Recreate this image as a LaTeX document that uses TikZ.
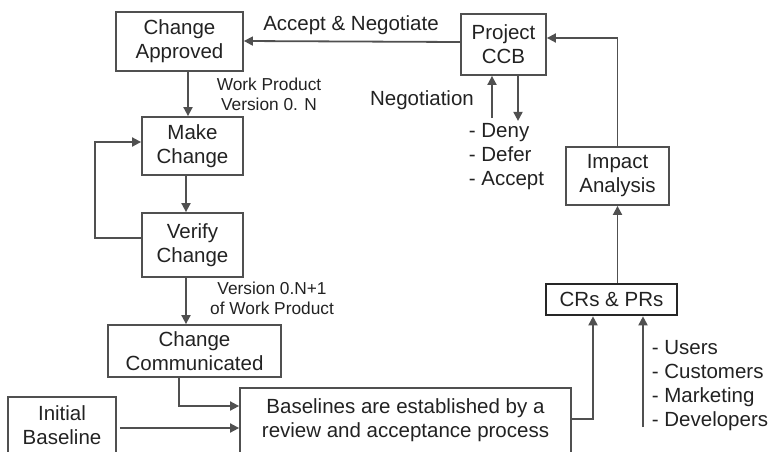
\documentclass[tikz,border=0pt]{standalone}
\usepackage{fontspec}
\setmainfont{Liberation Sans}
\usetikzlibrary{arrows.meta}
\definecolor{linegrey}{HTML}{505050}
\definecolor{textgrey}{HTML}{222222}
\tikzset{%
    process/.style={
      rectangle,
      draw,
      line width=1.8pt,
      align=center,
      inner sep=0pt,
      text=textgrey,
      font=\fontsize{20.5}{24}\selectfont
    },
    request/.style={
      process,
      draw=black!85,
      line width=2.6pt
    },
    remark/.style={
      align=center,
      inner sep=0pt,
      text=textgrey,
      font=\fontsize{17.3}{20}\selectfont
    },
    listing/.style={
      align=left,
      inner sep=0pt,
      text=textgrey,
      font=\fontsize{20.5}{24}\selectfont
    }
  }

\begin{document}
\begin{tikzpicture}[x=1pt, y=-1pt, >={Triangle[length=9pt,width=9pt]}, line width=1.8pt, color=linegrey]
      \useasboundingbox (0,0) rectangle (770,451);
      \clip (0,0) rectangle (770,451);

      \node [process, minimum width=127pt, minimum height=59pt] (approved) at (179.5,41.5) {Change\\Approved};
      \node [process, minimum width=101pt, minimum height=58pt] (make) at (192.5,146) {Make\\Change};
      \node [process, minimum width=101pt, minimum height=64pt] (verify) at (192.5,245) {Verify\\Change};
      \node [process, minimum width=173pt, minimum height=52pt] (comm) at (194.5,351) {Change\\Communicated};
      \node [process, minimum width=108pt, minimum height=56pt] (initial) at (62,425) {Initial\\Baseline};
      \node [process, minimum width=331pt, minimum height=65pt] (baselines) at (405.5,420.5) {Baselines are established by a\\review and acceptance process};

      \node [process, minimum width=85pt, minimum height=61pt] (ccb) at (503.5,44.5) {Project\\CCB};
      \node [process, minimum width=103pt, minimum height=58pt] (impact) at (617.5,176) {Impact\\Analysis};
      \node [request, minimum width=131pt, minimum height=31pt] (crs) at (611.5,299.5) {CRs \& PRs};

      \node [listing] (acc) at (351,25) {Accept \& Negotiate};
      \node [remark] (wp) at (269,94) {Work Product\\Version 0. N};
      \node [remark] (wpnext) at (272,298) {Version 0.N+1\\of Work Product};
      \node [listing] (negtxt) at (422,100) {Negotiation};
      \node [listing, anchor=west] (verdict) at (468,157) {- Deny\\- Defer\\- Accept};
      \node [listing, anchor=west] (sources) at (651,386) {- Users\\- Customers\\- Marketing\\- Developers};

      \coordinate (nego) at (492,118);
      \coordinate (users) at (643,427);

      \draw [->] ([yshift=2.5pt]ccb.west) -- ([yshift=0.5pt]approved.east);
      \draw [->] ([xshift=8.5pt]approved.south) -- ([xshift=-4.5pt]make.north);
      \draw [->] ([xshift=-6.5pt]make.south) -- ([xshift=-6.5pt]verify.north);
      \draw [->] ([yshift=7pt]verify.west) -- ++(-46,0) |- ([yshift=4pt]make.west);
      \draw [->] ([xshift=-6.5pt]verify.south) -- ([xshift=-8.5pt]comm.north);

      \draw [->] ([xshift=-15.5pt]comm.south) |- ([yshift=14.5pt]baselines.west);
      \draw [->] ([xshift=3pt,yshift=-3pt]initial.east) -- ([yshift=-7.5pt]baselines.west);
      \draw [->] ([yshift=1.5pt]baselines.east) -| ([xshift=-18.5pt]crs.south);

      \draw [->] (users) -- (users |- crs.south);
      \draw [->] (crs.north -| impact.south) -- (impact.south);
      \draw [->] (impact.north) |- ([yshift=6.5pt]ccb.east);

      \draw [->] (nego) -- (nego |- ccb.south);
      \draw [->] ([xshift=14.5pt]ccb.south) -- ++(0,45);

    \end{tikzpicture}
\end{document}
